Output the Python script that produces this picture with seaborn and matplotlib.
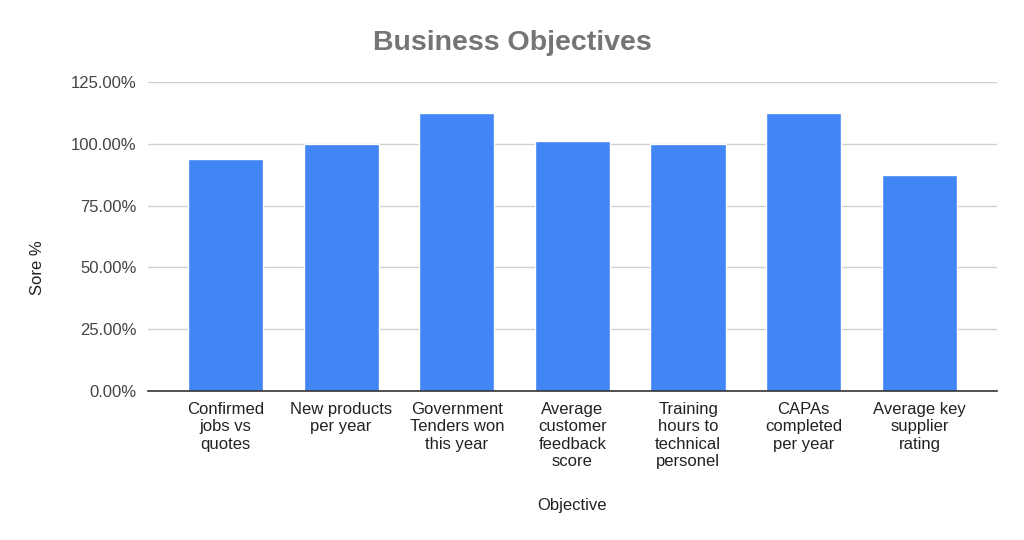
import matplotlib
matplotlib.use("Agg")
import matplotlib.pyplot as plt
import seaborn as sns
import pandas as pd
from matplotlib.ticker import FuncFormatter, MultipleLocator

categories = [
    "Confirmed\njobs vs\nquotes",
    "New products\nper year",
    "Government\nTenders won\nthis year",
    "Average\ncustomer\nfeedback\nscore",
    "Training\nhours to\ntechnical\npersonel",
    "CAPAs\ncompleted\nper year",
    "Average key\nsupplier\nrating",
]
scores = [0.94, 1.00, 1.125, 1.01, 1.00, 1.125, 0.875]

df = pd.DataFrame({"Objective": categories, "Score": scores})

sns.set_theme(style="white")
plt.rcParams["font.family"] = ["Liberation Sans", "DejaVu Sans"]

fig = plt.figure(figsize=(10.24, 5.4), dpi=100)
ax = fig.add_axes([0.1445, 0.276, 0.829, 0.572])

sns.barplot(data=df, x="Objective", y="Score", color="#4285F4", width=0.65,
            saturation=1, ax=ax, zorder=3)

ax.set_xlim(-0.67, 6.67)
ax.set_ylim(0, 1.25)
ax.yaxis.set_major_locator(MultipleLocator(0.25))
ax.yaxis.set_major_formatter(FuncFormatter(lambda v, p: f"{v*100:.2f}%"))
ax.grid(axis="y", color="#d0d0d0", linewidth=1, zorder=0)
ax.set_axisbelow(True)
for s in ["top", "right", "left"]:
    ax.spines[s].set_visible(False)
ax.spines["bottom"].set_color("#333333")
ax.spines["bottom"].set_linewidth(1.2)
ax.spines["bottom"].set_zorder(4)

ax.tick_params(axis="y", length=0, labelsize=12, labelcolor="#444444", pad=8)
ax.tick_params(axis="x", length=0, labelsize=12, labelcolor="#222222", pad=8)
for lab in ax.get_xticklabels():
    lab.set_linespacing(1.2)

ax.set_xlabel("Objective", fontsize=12, color="#222222", labelpad=21)
ax.set_ylabel("Sore %", fontsize=12, color="#222222")
ax.yaxis.set_label_coords(-0.121, 0.40)

fig.text(0.5, 0.921, "Business Objectives", ha="center", va="center",
         fontsize=20.5, fontweight="bold", color="#757575")

fig.savefig("out.png", dpi=100, facecolor="white")
